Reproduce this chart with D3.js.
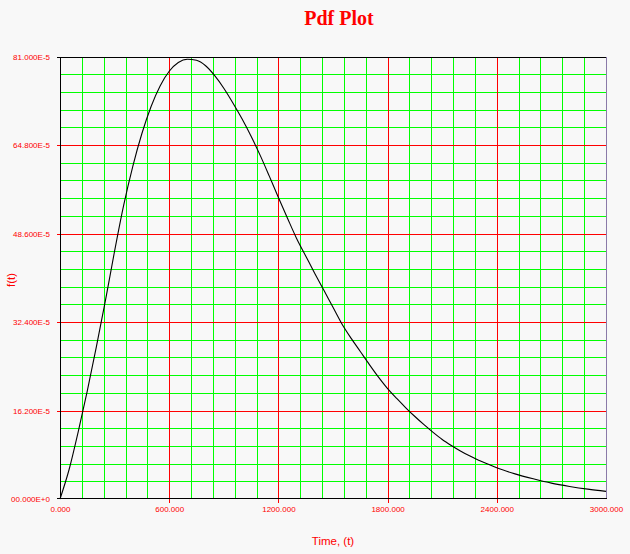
<!DOCTYPE html>
<html>
<head>
<meta charset="utf-8">
<script src="https://cdn.jsdelivr.net/npm/d3@7"></script>
<style>
  html, body { margin: 0; padding: 0; background: #f8f8f8; }
  svg { display: block; }
</style>
</head>
<body>
<svg id="chart" width="630" height="554"></svg>
<script>
// ---- Data ----
const times = [0, 50, 100, 150, 200, 250, 300, 350, 400, 450, 500, 550, 600, 650, 700, 750, 800, 850, 900, 950,
  1000, 1050, 1100, 1150, 1200, 1250, 1300, 1350, 1400, 1450, 1500, 1550, 1600, 1650, 1700, 1750, 1800, 1850, 1900, 1950,
  2000, 2050, 2100, 2150, 2200, 2250, 2300, 2350, 2400, 2500, 2600, 2700, 2800, 2900, 3000];
const pdfVals = [0, 5.4, 12.3, 19.8, 27.9, 36.4, 45.4, 53.8, 60.9, 66.9, 71.8, 75.6, 78.3, 79.9, 80.5, 80.3, 79.3, 77.5, 75.2, 72.5,
  69.6, 66.4, 62.9, 59.1, 55.2, 51.4, 47.7, 44.5, 41.3, 38.2, 35.1, 32.0, 29.4, 27.0, 24.6, 22.3, 20.2, 18.4, 16.7, 15.1,
  13.6, 12.2, 10.9, 9.8, 8.8, 7.9, 7.1, 6.4, 5.7, 4.6, 3.7, 2.9, 2.3, 1.8, 1.4]; // units of 1E-5

const xMajorTicks = [0, 600, 1200, 1800, 2400, 3000];
const xTickLabels = ["0.000", "600.000", "1200.000", "1800.000", "2400.000", "3000.000"];
const xMinorStep = 120;

const yMajorTicks = [0, 16.2, 32.4, 48.6, 64.8, 81.0];
const yTickLabels = ["00.000E+0", "16.200E-5", "32.400E-5", "48.600E-5", "64.800E-5", "81.000E-5"];
const yMinorStep = 3.24;

const titleText = "Pdf Plot";
const xTitle = "Time, (t)";
const yTitle = "f(t)";

// ---- Layout ----
const svg = d3.select("#chart");
const pL = 60, pR = 606, pT = 56.5, pB = 499;

const x = d3.scaleLinear().domain([0, 3000]).range([pL, pR]);
const y = d3.scaleLinear().domain([0, 81]).range([pB, pT]);

const red = "#ff0000", green = "#00ff00";
const px = v => Math.round(v) + 0.5;

// Minor grid
const xMinor = d3.range(0, 3000 + 1e-6, xMinorStep).filter(v => !xMajorTicks.some(m => Math.abs(m - v) < 1e-6));
const yMinor = d3.range(0, 81 + 1e-6, yMinorStep).filter(v => !yMajorTicks.some(m => Math.abs(m - v) < 1e-6));

const grid = svg.append("g");
grid.selectAll(".xm").data(xMinor).join("line")
  .attr("x1", d => px(x(d))).attr("x2", d => px(x(d)))
  .attr("y1", Math.round(pT)).attr("y2", pB)
  .attr("stroke", green).attr("stroke-width", 1);
grid.selectAll(".ym").data(yMinor).join("line")
  .attr("y1", d => px(y(d))).attr("y2", d => px(y(d)))
  .attr("x1", pL).attr("x2", pR)
  .attr("stroke", green).attr("stroke-width", 1);

// Major grid
grid.selectAll(".xM").data(xMajorTicks.slice(1, -1)).join("line")
  .attr("x1", d => px(x(d))).attr("x2", d => px(x(d)))
  .attr("y1", Math.round(pT)).attr("y2", pB + 4)
  .attr("stroke", red).attr("stroke-width", 1);
grid.selectAll(".yM").data(yMajorTicks.slice(1, -1)).join("line")
  .attr("y1", d => px(y(d))).attr("y2", d => px(y(d)))
  .attr("x1", pL - 3).attr("x2", pR)
  .attr("stroke", red).attr("stroke-width", 1);

// Right border
grid.append("line")
  .attr("x1", px(pR)).attr("x2", px(pR))
  .attr("y1", Math.round(pT)).attr("y2", pB)
  .attr("stroke", "#8a7aa8").attr("stroke-width", 1);

// Curve
const line = d3.line()
  .x((d, i) => x(times[i]))
  .y(d => y(d))
  .curve(d3.curveMonotoneX);
svg.append("path")
  .datum(pdfVals)
  .attr("d", line)
  .attr("fill", "none")
  .attr("stroke", "#000")
  .attr("stroke-width", 1.1);

// Axes frame (left, bottom, top)
const frame = svg.append("g");
frame.append("line").attr("x1", pL - 3).attr("x2", pR)
  .attr("y1", px(pT)).attr("y2", px(pT)).attr("stroke", "#000");
frame.append("line").attr("x1", pL - 3).attr("x2", pR + 1)
  .attr("y1", Math.round(pB) - 0.5).attr("y2", Math.round(pB) - 0.5).attr("stroke", "#000");
frame.append("line").attr("x1", pL + 0.5).attr("x2", pL + 0.5)
  .attr("y1", Math.round(pT)).attr("y2", pB).attr("stroke", "#000");

// Axis labels via d3 axes
const xAxis = d3.axisBottom(x).tickValues(xMajorTicks)
  .tickFormat((d, i) => xTickLabels[i]).tickSize(0).tickPadding(7);
const gx = svg.append("g").attr("transform", `translate(0,${pB})`).call(xAxis);
gx.select(".domain").remove();
gx.selectAll("text").attr("fill", red)
  .style("font-family", "'Liberation Sans', Arial, sans-serif").style("font-size", "8px");

const yAxis = d3.axisLeft(y).tickValues(yMajorTicks)
  .tickFormat((d, i) => yTickLabels[i]).tickSize(0).tickPadding(10);
const gy = svg.append("g").attr("transform", `translate(${pL},0)`).call(yAxis);
gy.select(".domain").remove();
gy.selectAll("text").attr("fill", red)
  .style("font-family", "'Liberation Sans', Arial, sans-serif").style("font-size", "8px");

// Titles
svg.append("text")
  .attr("x", 339).attr("y", 25)
  .attr("text-anchor", "middle")
  .attr("fill", red)
  .style("font-family", "'Liberation Serif', 'Times New Roman', serif")
  .style("font-weight", "bold").style("font-size", "20px")
  .text(titleText);

svg.append("text")
  .attr("x", (pL + pR) / 2).attr("y", 545)
  .attr("text-anchor", "middle")
  .attr("fill", red)
  .style("font-family", "'Liberation Sans', Arial, sans-serif").style("font-size", "11.5px")
  .text(xTitle);

svg.append("text")
  .attr("transform", "translate(15,280) rotate(-90)")
  .attr("text-anchor", "middle")
  .attr("fill", red)
  .style("font-family", "'Liberation Sans', Arial, sans-serif").style("font-size", "11.5px")
  .text(yTitle);
</script>
</body>
</html>
